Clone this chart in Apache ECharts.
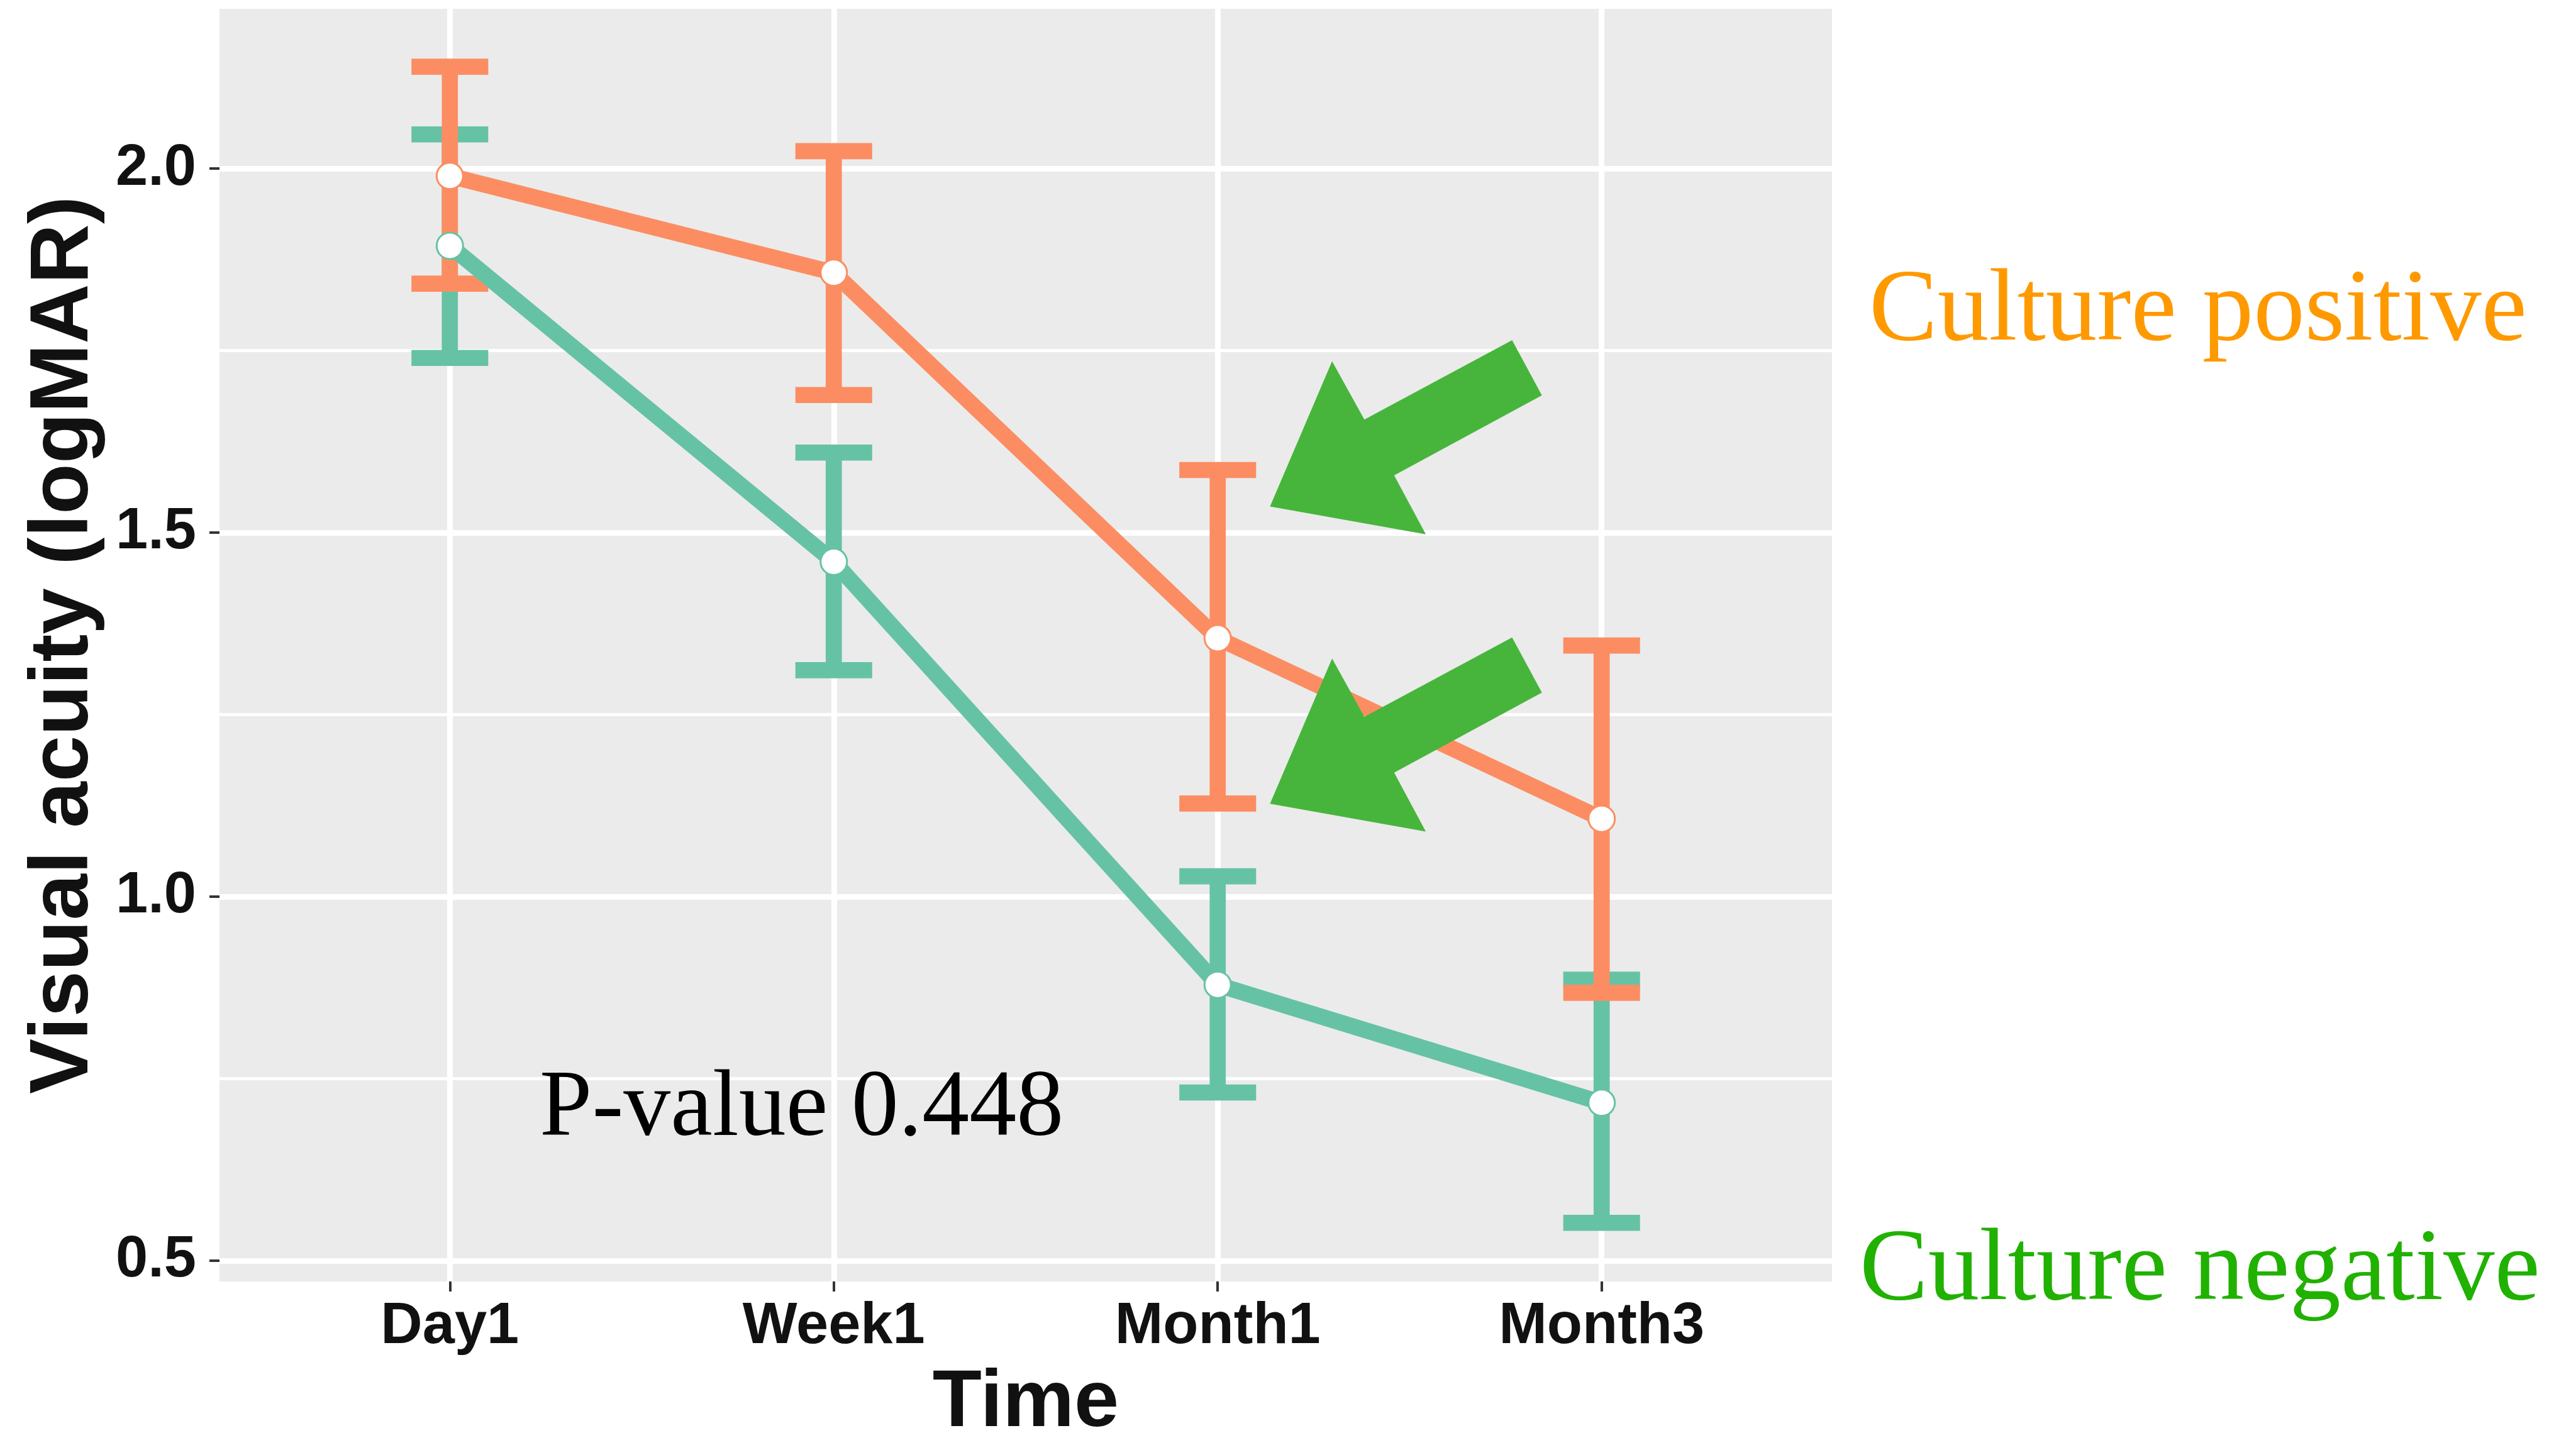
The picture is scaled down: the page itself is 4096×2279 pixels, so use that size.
<!DOCTYPE html>
<html>
<head>
<meta charset="utf-8">
<style>
  html, body { margin: 0; padding: 0; background: #fff; }
  #chart { width: 4096px; height: 2279px; }
</style>
<script src="https://cdn.jsdelivr.net/npm/echarts@6.0.0/dist/echarts.min.js"></script>
</head>
<body>
<div id="chart"></div>
<script>
// time points on the x axis
var timePoints = ['Day1', 'Week1', 'Month1', 'Month3']
var yTicks = [0.5, 1.0, 1.5, 2.0]
var yMinorTicks = [0.75, 1.25, 1.75]

// culture positive (orange)
var posMean = [1.99, 1.857, 1.355, 1.107]
var posLower = [1.842, 1.689, 1.128, 0.868]
var posUpper = [2.14, 2.024, 1.586, 1.345]

// culture negative (green)
var negMean = [1.894, 1.46, 0.879, 0.717]
var negLower = [1.74, 1.311, 0.731, 0.552]
var negUpper = [2.047, 1.61, 1.028, 0.886]

var S = 0.987
var cPos = '#FC8D62'
var cNeg = '#66C2A5'
var capWidth = 0.2
var barWidth = 26 * S
var xIdx = timePoints.map(function (t, i) { return i })

function errorBarRenderer (color) {
  return function (params, api) {
    var x = api.value(0)
    var lo = api.coord([x, api.value(1)])
    var hi = api.coord([x, api.value(2)])
    var half = api.size([capWidth / 2, 0])[0]
    var st = { stroke: color, lineWidth: barWidth, fill: null }
    return {
      type: 'group',
      children: [
        { type: 'line', shape: { x1: lo[0], y1: lo[1], x2: hi[0], y2: hi[1] }, style: st },
        { type: 'line', shape: { x1: lo[0] - half, y1: lo[1], x2: lo[0] + half, y2: lo[1] }, style: st },
        { type: 'line', shape: { x1: hi[0] - half, y1: hi[1], x2: hi[0] + half, y2: hi[1] }, style: st }
      ]
    }
  }
}

function pairs (arr) {
  return arr.map(function (v, i) { return [i, v] })
}

function ranges (lo, hi) {
  return lo.map(function (v, i) { return [i, v, hi[i]] })
}

// green arrows (annotation, pixel space)
var arrowPts = [[2046, 816], [2146, 582], [2198, 676], [2436, 548], [2484, 637], [2246, 766], [2297, 861]]
function arrow (dy) {
  return {
    type: 'polygon',
    z: 100,
    shape: { points: arrowPts.map(function (p) { return [p[0] * S, (p[1] + dy) * S] }) },
    style: { fill: '#47B53C' }
  }
}

var tickFont = { fontSize: 92, fontWeight: 'bold', color: '#111', fontFamily: 'Liberation Sans' }

var chart = echarts.init(document.getElementById('chart'))
var option = {
  animation: false,
  backgroundColor: '#fff',
  grid: {
    left: 349,
    top: 14,
    right: 1183,
    bottom: 241,
    show: true,
    backgroundColor: '#EBEBEB',
    borderWidth: 0,
    outerBoundsMode: 'none'
  },
  xAxis: {
    type: 'value',
    min: -0.6,
    max: 3.6,
    axisLine: { show: false, onZero: false },
    axisTick: { show: true, length: 16, customValues: xIdx, lineStyle: { color: '#333', width: 4 } },
    axisLabel: Object.assign({
      customValues: xIdx,
      margin: 27,
      formatter: function (v) { return timePoints[Math.round(v)] }
    }, tickFont),
    splitLine: { show: true, lineStyle: { color: '#fff', width: 9 } },
    name: 'Time',
    nameLocation: 'middle',
    nameGap: 131,
    nameTextStyle: { fontSize: 128, fontWeight: 'bold', color: '#111', fontFamily: 'Liberation Sans' }
  },
  yAxis: [
    {
      type: 'value',
      min: 0.4715,
      max: 2.2195,
      axisLine: { show: false, onZero: false },
      axisTick: { show: true, length: 16, customValues: yTicks, lineStyle: { color: '#333', width: 4 } },
      axisLabel: Object.assign({
        customValues: yTicks,
        margin: 37,
        formatter: function (v) { return v.toFixed(1) }
      }, tickFont),
      splitLine: { show: true, lineStyle: { color: '#fff', width: 9 } },
      name: 'Visual acuity (logMAR)',
      nameLocation: 'middle',
      nameGap: 180,
      nameRotate: 90,
      nameTextStyle: { fontSize: 132, fontWeight: 'bold', color: '#111', fontFamily: 'Liberation Sans' }
    },
    {
      type: 'value',
      position: 'left',
      min: 0.4715,
      max: 2.2195,
      axisLine: { show: false, onZero: false },
      axisTick: { show: false, customValues: yMinorTicks },
      axisLabel: { show: false, customValues: yMinorTicks },
      splitLine: { show: true, lineStyle: { color: '#fff', width: 5 } }
    }
  ],
  series: [
    {
      type: 'custom',
      name: 'negErr',
      renderItem: errorBarRenderer(cNeg),
      data: ranges(negLower, negUpper),
      encode: { x: 0, y: [1, 2] },
      z: 2
    },
    {
      type: 'custom',
      name: 'posErr',
      renderItem: errorBarRenderer(cPos),
      data: ranges(posLower, posUpper),
      encode: { x: 0, y: [1, 2] },
      z: 2
    },
    {
      type: 'line',
      name: 'Culture negative',
      data: pairs(negMean),
      symbol: 'circle',
      symbolSize: 42,
      itemStyle: { color: '#fff', borderColor: cNeg, borderWidth: 3 },
      lineStyle: { color: cNeg, width: barWidth },
      z: 3
    },
    {
      type: 'line',
      name: 'Culture positive',
      data: pairs(posMean),
      symbol: 'circle',
      symbolSize: 42,
      itemStyle: { color: '#fff', borderColor: cPos, borderWidth: 3 },
      lineStyle: { color: cPos, width: barWidth },
      z: 3
    }
  ],
  graphic: [
    arrow(0),
    arrow(479),
    {
      type: 'text', z: 100, left: 858, top: 1761 - 70,
      style: { text: 'P-value 0.448', fontSize: 150, fontFamily: 'Liberation Serif', fill: '#000' }
    },
    {
      type: 'text', z: 100, left: 2972, top: 485 - 69,
      style: { text: 'Culture positive', fontSize: 163, fontFamily: 'Liberation Serif', fill: '#FF9900' }
    },
    {
      type: 'text', z: 100, left: 2957, top: 2011 - 69,
      style: { text: 'Culture negative', fontSize: 163, fontFamily: 'Liberation Serif', fill: '#21B100' }
    }
  ]
}
chart.setOption(option)
</script>
</body>
</html>
